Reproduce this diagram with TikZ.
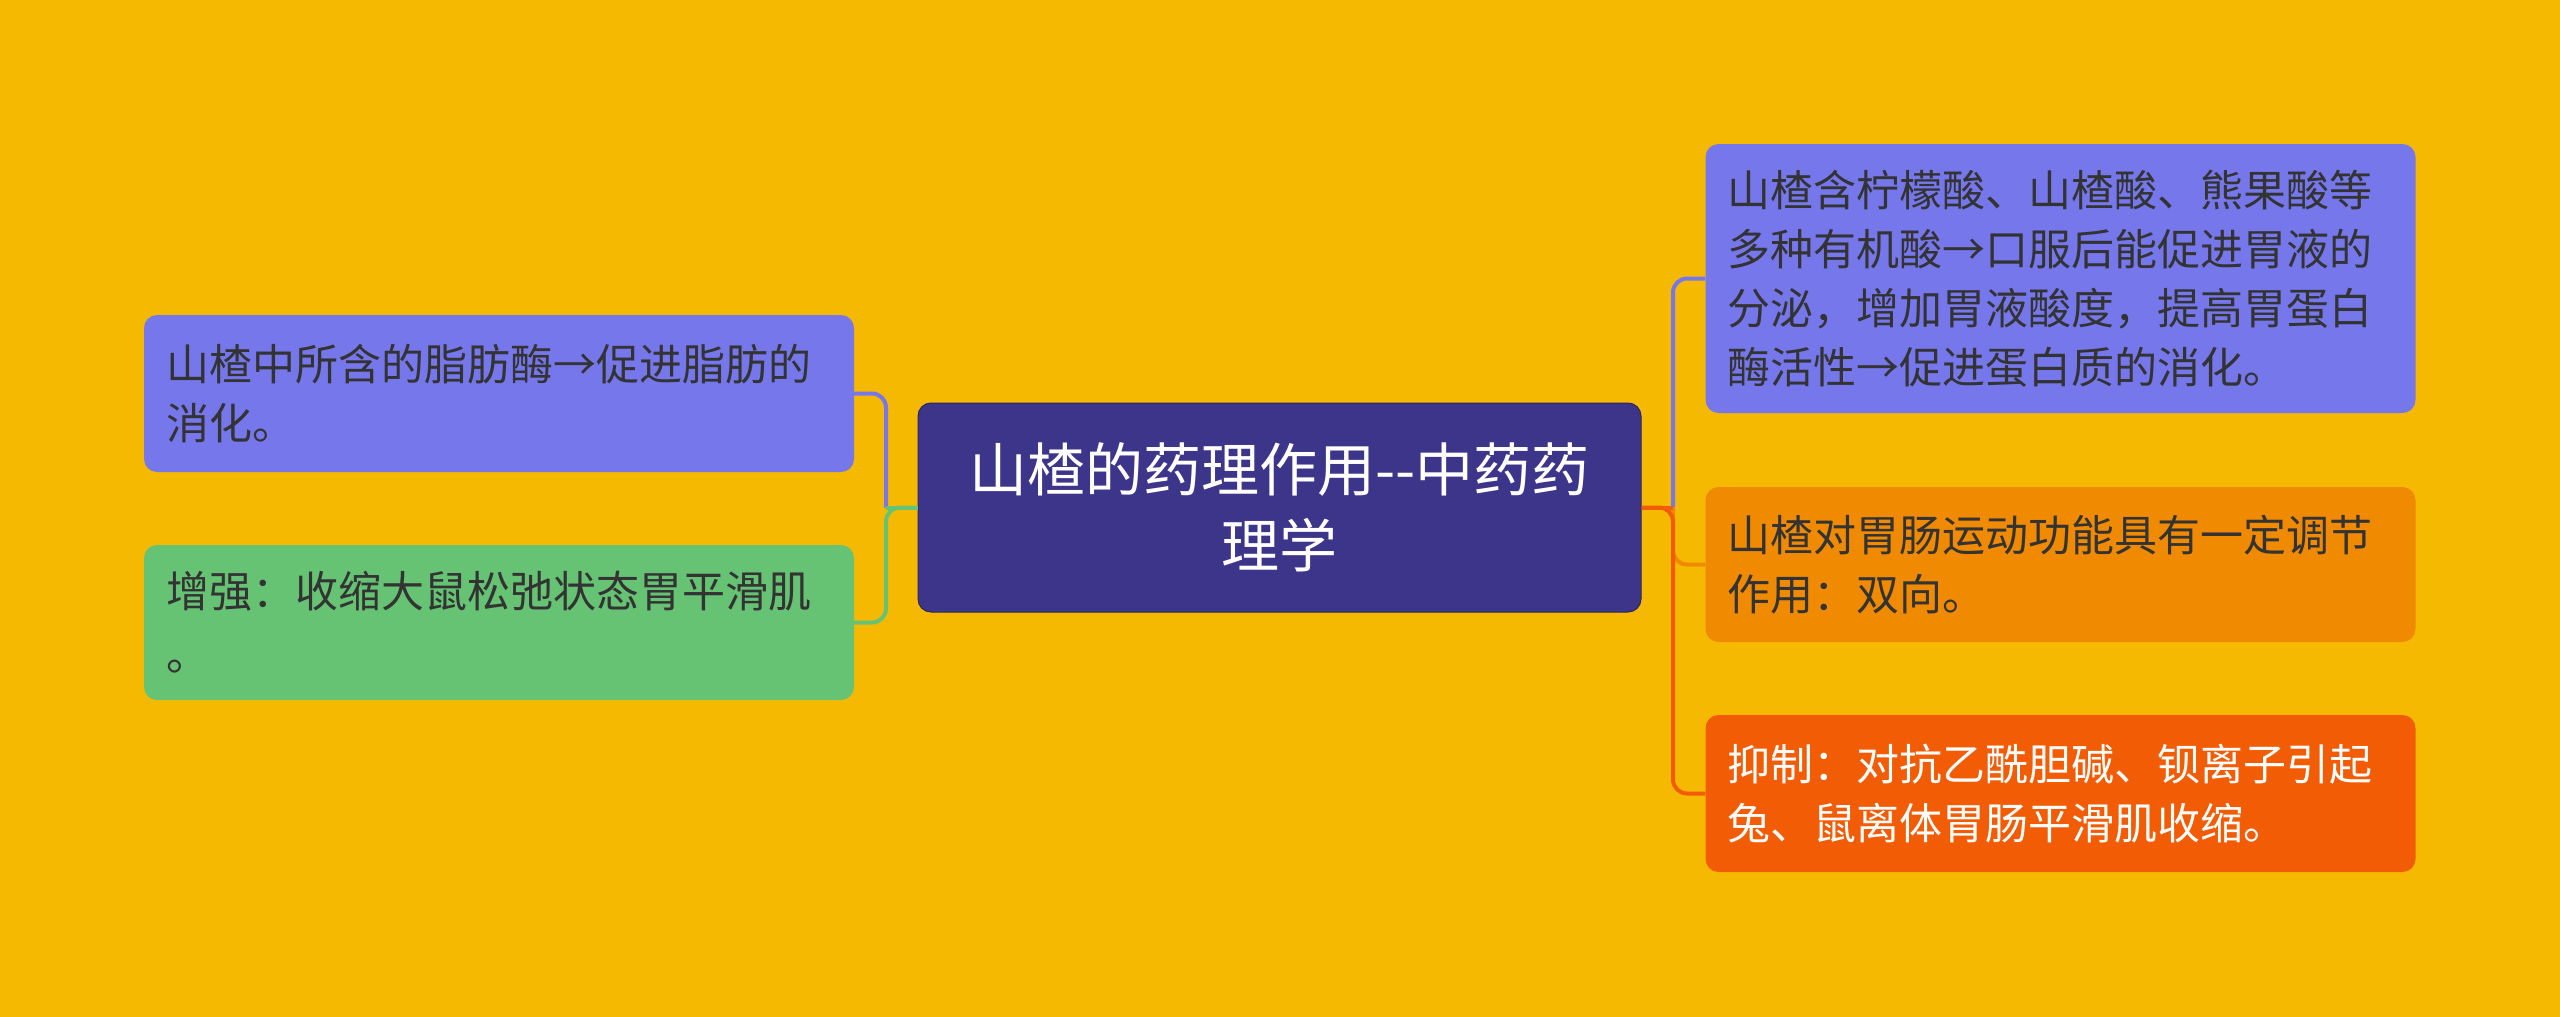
\documentclass[tikz,border=0pt]{standalone}
\usepackage{fontspec}
\setmainfont{Noto Sans CJK SC}
\definecolor{bg}{HTML}{F6B901}
\definecolor{cfill}{HTML}{3D3589}
\definecolor{pfill}{HTML}{7577EB}
\definecolor{gfill}{HTML}{66C373}
\definecolor{ofill}{HTML}{F08A00}
\definecolor{rfill}{HTML}{F25C05}
\definecolor{dtext}{HTML}{333333}
\tikzset{
  box/.style={rounded corners=13pt, minimum width=710pt, inner xsep=22pt, inner ysep=0pt,
    text width=666pt, align=left, font=\fontsize{43}{59}\selectfont, text=dtext},
  cbox/.style={rounded corners=13pt, draw=cfill!70!black, line width=1pt, fill=cfill,
    minimum width=723pt, minimum height=209pt, text width=700pt, align=center,
    font=\fontsize{58}{76}\selectfont, text=white, inner sep=0pt},
  link/.style={line width=4pt, rounded corners=14pt}
}
\begin{document}
\begin{tikzpicture}[x=1pt,y=-1pt]
\fill[bg] (0,0) rectangle (2560,1017);
\useasboundingbox (0,0) rectangle (2560,1017);

\node[cbox] (c) at (1279.5,507.5) {山楂的药理作用{-}{-}中药药\\理学};

\node[box, fill=pfill, minimum height=157pt] (l1) at (499,393.5) {山楂中所含的脂肪酶→促进脂肪的\\消化。};
\node[box, fill=gfill, minimum height=155pt] (l2) at (499,622.5) {增强：收缩大鼠松弛状态胃平滑肌\\[4pt]。};

\node[box, fill=pfill, minimum height=269pt] (r1) at (2060.5,278.5) {山楂含柠檬酸、山楂酸、熊果酸等\\多种有机酸→口服后能促进胃液的\\分泌，增加胃液酸度，提高胃蛋白\\酶活性→促进蛋白质的消化。};
\node[box, fill=ofill, minimum height=155pt] (r2) at (2060.5,564.5) {山楂对胃肠运动功能具有一定调节\\作用：双向。};
\node[box, fill=rfill, minimum height=157pt, text=white] (r3) at (2060.5,793.5) {抑制：对抗乙酰胆碱、钡离子引起\\兔、鼠离体胃肠平滑肌收缩。};

\coordinate (tl) at (886,507.5);
\coordinate (tr) at (1673,507.5);

% left connectors
\draw[link, draw=pfill] (tl) |- (l1.east);
\draw[link, draw=gfill] (c.west) -- (tl) |- (l2.east);
\draw[line width=4pt, draw=gfill] (c.west) -- (tl);

% right connectors
\draw[link, draw=pfill] (tr) |- (r1.west);
\draw[link, draw=ofill] (tr) |- (r2.west);
\draw[link, draw=rfill] (c.east) -- (tr) |- (r3.west);
\draw[line width=4pt, draw=rfill] (c.east) -- (tr);
\end{tikzpicture}
\end{document}
